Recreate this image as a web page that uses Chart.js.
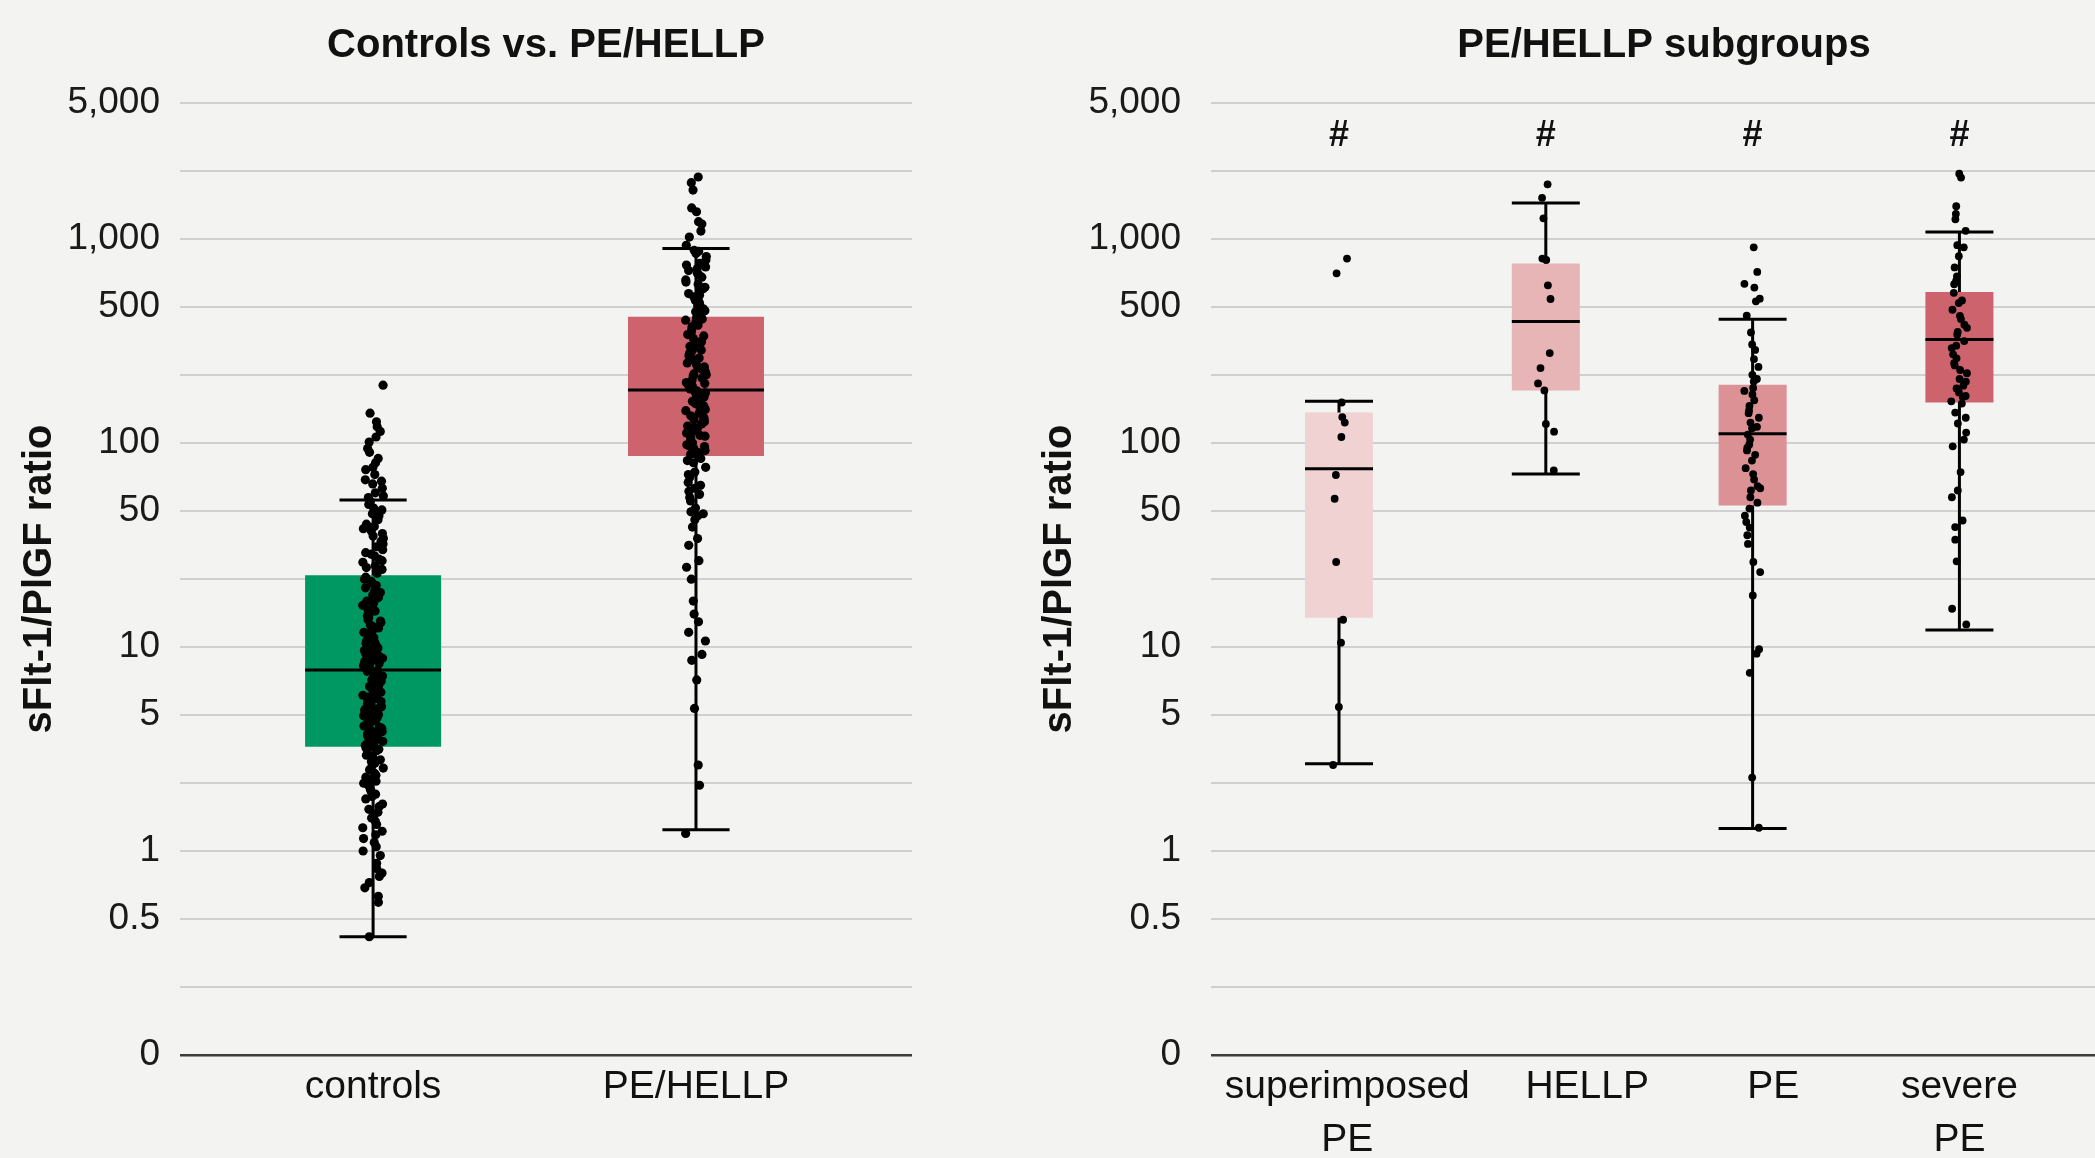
<!DOCTYPE html>
<html><head><meta charset="utf-8">
<script src="https://cdn.jsdelivr.net/npm/chart.js@4.4.1/dist/chart.umd.min.js"></script>
<style>
html,body{margin:0;padding:0;width:2095px;height:1158px;overflow:hidden;background:#f3f3f2;}
#wl{position:absolute;left:0;top:0;width:930px;height:1158px;}
#wr{position:absolute;left:1020px;top:0;width:1110px;height:1158px;}
</style></head><body>
<div id="wl"><canvas id="cl"></canvas></div>
<div id="wr"><canvas id="cr"></canvas></div>
<script>
// ---------- DATA ----------
const leftTitle = 'Controls vs. PE/HELLP';
const rightTitle = 'PE/HELLP subgroups';
const yTitle = 'sFlt-1/PlGF ratio';

const leftCategories = ['controls', 'PE/HELLP'];
const rightCategories = [['superimposed', 'PE'], 'HELLP', 'PE', ['severe', 'PE']];

const yTickValues = [0.1, 0.2154, 0.4642, 1, 2.154, 4.642, 10, 21.54, 46.42, 100, 215.4, 464.2, 1000, 2154, 4642];
const yTickLabels = ['0', '', '0.5', '1', '', '5', '10', '', '50', '100', '', '500', '1,000', '', '5,000'];

const leftQ1 = [3.24, 86.3];
const leftMedian = [7.71, 182];
const leftQ3 = [22.5, 416];
const leftWhiskerLow = [0.38, 1.27];
const leftWhiskerHigh = [52.6, 899];

const rightQ1 = [13.9, 181, 49.4, 158];
const rightMedian = [74.8, 394, 111, 322];
const rightQ3 = [141, 759, 193, 550];
const rightWhiskerLow = [2.68, 70.4, 1.29, 12.1];
const rightWhiskerHigh = [160, 1500, 404, 1081];

const sigMarks = ['#', '#', '#', '#'];

const controlsPoints = [192, 140, 127, 120, 114, 107, 101, 94, 90, 84, 80, 76, 74, 70, 66, 63, 60, 57, 54, 52, 50, 48, 46, 44, 42, 40, 38, 37, 35, 34, 32, 31, 30, 29, 28, 27, 26, 25, 24, 23,
  22, 21, 20.5, 20, 19, 18.5, 18, 17.5, 17, 16.5, 16, 15.5, 15, 14.5, 14, 13.6, 13.2, 12.8, 12.4, 12, 11.6, 11.3, 11, 10.7, 10.4, 10.1, 9.8, 9.6, 9.4, 9.2, 9.0, 8.8, 8.6, 8.4, 8.3, 8.2, 8.1, 8.0, 7.9, 7.8,
  7.6, 7.4, 7.2, 7.0, 6.8, 6.6, 6.4, 6.2, 6.0, 5.9, 5.8, 5.6, 5.5, 5.4, 5.2, 5.1, 5.0, 4.9, 4.8, 4.7, 4.6, 4.5, 4.4, 4.3, 4.2, 4.1, 4.0, 3.9, 3.85, 3.8, 3.7, 3.65, 3.6, 3.55, 3.5, 3.45, 3.4, 3.35, 3.3, 3.25,
  3.2, 3.1, 3.0, 2.9, 2.8, 2.7, 2.6, 2.5, 2.4, 2.3, 2.2, 2.15, 2.1, 2.0, 1.95, 1.9, 1.8, 1.7, 1.65, 1.6, 1.5, 1.45, 1.4, 1.35, 1.3, 1.2, 1.15, 1.1, 1.05, 1.0, 0.95, 0.87, 0.82, 0.78, 0.75, 0.7, 0.66, 0.6, 0.56, 0.38,
  65, 55, 47, 45, 39, 36, 33, 28.5, 26.5, 24.5, 21.5, 19.5, 18.2, 16.8, 15.2, 14.2, 13.4, 12.6, 11.8, 11.1, 10.5, 9.9, 9.3, 8.9, 8.5, 7.7, 7.3, 6.9, 6.5, 6.1, 5.7, 5.3, 4.95, 4.65, 4.35, 4.05, 3.75, 3.42, 3.15, 2.95, 2.75, 2.55, 2.35, 2.25, 1.85, 1.55, 1.25];

const peHellpPoints = [2013, 1888, 1738, 1420, 1360, 1216, 1183, 1094, 1022, 931,
  880, 850, 820, 790, 760, 730, 700, 680, 650, 630, 600, 580, 560, 540, 520, 500, 490, 470, 455, 440, 430, 420,
  412, 400, 390, 378, 366, 355, 345, 335, 325, 316, 307, 298, 290, 282, 275, 268, 261, 254, 247, 241, 235, 229, 223, 218, 213, 208, 203, 198, 194, 190, 187, 184,
  180, 176, 172, 168, 164, 160, 156, 152, 148, 144, 140, 136, 133, 130, 127, 124, 121, 118, 115, 112, 109, 106, 103, 100, 98, 96, 94, 92, 90, 89, 88, 87,
  84, 80, 76, 72, 68, 64, 60, 58, 56, 52, 48, 45, 44, 42, 38.7, 34, 31.5, 26.5, 24.6, 21.5, 16.8, 14.5, 13.3, 11.8, 10.7, 9.2, 8.6, 6.9, 5.0, 2.64, 2.1, 1.22,
  870, 745, 715, 665, 615, 570, 530, 480, 445, 405, 372, 340, 312, 286, 258, 236, 216, 196, 178, 162, 146, 131, 119, 108, 97, 82, 70, 62, 54, 46];

const superimposedPoints = [802, 679, 158, 134, 126, 107, 69.7, 53.3, 26.1, 13.6, 10.5, 5.08, 2.64];
const hellpPoints = [1853, 1592, 1263, 802, 790, 593, 508, 276, 233, 196, 181, 124, 113.6, 73.3];
const pePoints = [910, 690, 603, 578, 510, 495, 421, 348, 304, 286, 258, 236, 216, 206, 200, 186, 180, 173, 162, 152, 144.5, 140, 133, 126, 120, 118, 110, 104, 98.3, 95, 92, 87.5, 82, 75.3, 70.4, 66.2, 61.4, 60, 58.5, 54.2, 51, 47.7, 44, 41, 38.5, 35.3, 32, 26.1, 23.3, 17.9, 9.76, 9.27, 7.47, 2.29, 1.30];
const severePePoints = [2089, 2000, 1448, 1329, 1250, 1097, 933, 910, 823, 726, 656, 623, 600, 545, 500, 485, 450, 420, 405, 380, 367, 350, 340, 316, 300, 292, 272, 260, 246, 240, 228, 220, 206, 200, 191, 185, 177, 170, 168, 160, 156, 141, 133, 124.6, 112.5, 104, 96.3, 72, 58.5, 54.2, 41.7, 38.7, 33.6, 26.3, 15.4, 12.9];

const leftPoints = [controlsPoints, peHellpPoints];
const rightPoints = [superimposedPoints, hellpPoints, pePoints, severePePoints];

// ---------- STYLE ----------
const FONT = "'Liberation Sans', Arial, Helvetica, sans-serif";
const leftColors = ['#009862', '#cc636d'];
const rightColors = ['#f0d2d2', '#e7b5b5', '#dc9195', '#cd636d'];

// deterministic horizontal jitter offset in [-1, 1] (position only, not data)
function jit(k) { const s = Math.sin((k + 1) * 91.7) * 43758.5453; return (s - Math.floor(s)) * 2 - 1; }

function buildDatasets(o) {
  const ds = [];
  o.points.forEach((pts, i) => {
    ds.push({ data: pts.map((v, k) => ({ x: i + jit(k + i * 17) * o.jitter, y: v })), showLine: false,
      pointRadius: o.pointR, pointBackgroundColor: '#000', pointBorderWidth: 0, pointHoverRadius: o.pointR, order: 0 });
    ds.push({ data: [{ x: i - o.boxHalf, y: o.med[i] }, { x: i + o.boxHalf, y: o.med[i] }], showLine: true,
      borderColor: '#000', borderWidth: 3, pointRadius: 0, order: 1 });
    ds.push({ data: [{ x: i - o.capHalf, y: o.wh[i] }, { x: i + o.capHalf, y: o.wh[i] }], showLine: true,
      borderColor: '#000', borderWidth: 3, pointRadius: 0, order: 1 });
    ds.push({ data: [{ x: i - o.capHalf, y: o.wl[i] }, { x: i + o.capHalf, y: o.wl[i] }], showLine: true,
      borderColor: '#000', borderWidth: 3, pointRadius: 0, order: 1 });
    ds.push({ data: [{ x: i, y: o.q1[i] }, { x: i, y: o.q3[i] }], showLine: true,
      borderColor: o.colors[i], borderWidth: o.boxPx, borderCapStyle: 'butt', pointRadius: 0, order: 2 });
    ds.push({ data: [{ x: i, y: o.wl[i] }, { x: i, y: o.wh[i] }], showLine: true,
      borderColor: '#000', borderWidth: 3, pointRadius: 0, order: 3 });
  });
  return ds;
}

function makeChart(id, o) {
  return new Chart(document.getElementById(id), {
    type: 'scatter',
    data: { datasets: buildDatasets(o) },
    plugins: o.plugins || [],
    options: {
      responsive: true, maintainAspectRatio: false, animation: false,
      layout: { padding: { left: 0, right: o.padRight, top: 0, bottom: 0 } },
      plugins: {
        legend: { display: false }, tooltip: { enabled: false },
        title: { display: true, text: o.title, fullSize: false, color: '#111',
          font: { family: FONT, size: 40, weight: 'bold', lineHeight: 1.2 }, padding: { top: 22, bottom: 33 } }
      },
      scales: {
        x: { type: 'linear', min: o.xMin, max: o.xMax,
          afterBuildTicks: s => { s.ticks = o.labelPos.map(v => ({ value: v })); },
          afterFit: s => { s.height = 103; },
          ticks: { callback: (v, i) => o.cats[i], font: { family: FONT, size: 39, lineHeight: 1.35 }, color: '#111',
            padding: 6, maxRotation: 0, minRotation: 0, autoSkip: false },
          grid: { display: false, drawTicks: false }, border: { display: false } },
        y: { type: 'logarithmic', min: 0.1, max: 4642,
          afterBuildTicks: s => { s.ticks = yTickValues.map(v => ({ value: v })); },
          afterFit: s => { s.width = o.axisW; },
          ticks: { callback: (v, i) => yTickLabels[i], font: { family: FONT, size: 37 }, color: '#1a1a1a',
            padding: o.tickPad, autoSkip: false },
          grid: { color: c => c.index === 0 ? '#3c3c3c' : '#d0d0d0', lineWidth: c => c.index === 0 ? 2.5 : 2, drawTicks: false },
          border: { display: false },
          title: { display: true, text: yTitle, color: '#111', font: { family: FONT, size: 40, weight: 'bold', lineHeight: 1.2 },
            padding: { top: 16, bottom: 0 } } }
      }
    }
  });
}

const hashPlugin = {
  id: 'hashMarks',
  afterDatasetsDraw(chart) {
    const { ctx, scales: { x, y } } = chart;
    ctx.save();
    ctx.font = "bold 36px " + FONT;
    ctx.textAlign = 'center'; ctx.textBaseline = 'middle'; ctx.fillStyle = '#111';
    sigMarks.forEach((m, i) => ctx.fillText(m, x.getPixelForValue(i), y.getPixelForValue(3200)));
    ctx.restore();
  }
};

makeChart('cl', {
  title: leftTitle, cats: leftCategories, labelPos: [0, 1], xMin: -0.598, xMax: 1.669,
  points: leftPoints, q1: leftQ1, med: leftMedian, q3: leftQ3, wl: leftWhiskerLow, wh: leftWhiskerHigh,
  colors: leftColors, boxPx: 136, boxHalf: 0.2105, capHalf: 0.104, jitter: 0.032, pointR: 4.6,
  padRight: 18, axisW: 180, tickPad: 20
});

makeChart('cr', {
  title: rightTitle, cats: rightCategories, labelPos: [0.04, 1.2, 2.1, 3.0], xMin: -0.619, xMax: 3.762,
  points: rightPoints, q1: rightQ1, med: rightMedian, q3: rightQ3, wl: rightWhiskerLow, wh: rightWhiskerHigh,
  colors: rightColors, boxPx: 68, boxHalf: 0.1644, capHalf: 0.1644, jitter: 0.04, pointR: 3.9,
  padRight: 13, axisW: 191, tickPad: 30, plugins: [hashPlugin]
});
</script>
</body></html>
